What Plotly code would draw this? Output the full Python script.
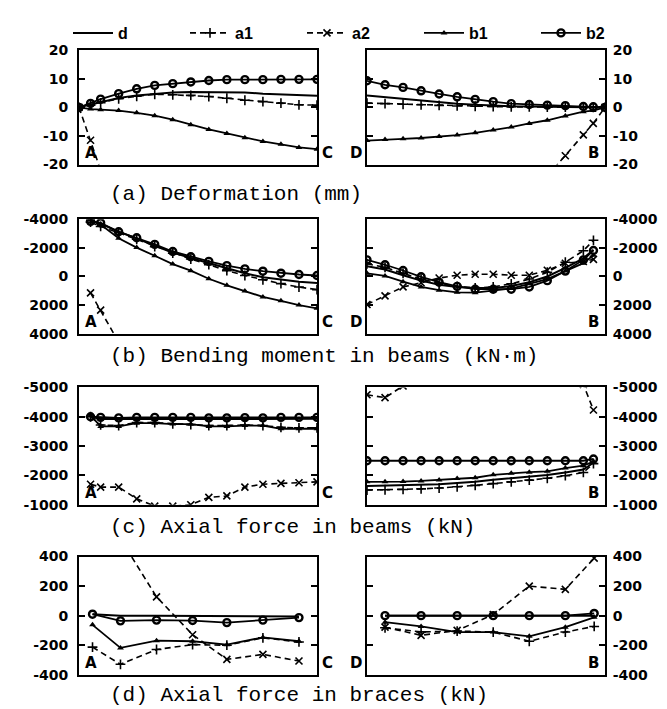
import plotly.graph_objects as go

# ---------------- positions along the beams ----------------
pos_a_left = [0, 0.64, 1.2, 2.2, 3.2, 4.2, 5.2, 6.2, 7.2, 8.2, 9.2, 10.2, 11.2, 12.2, 13.2]
pos_a_right = [0, 1, 2, 3, 4, 5, 6, 7, 8, 9, 10, 11, 12, 12.55, 13.2]
pos_bc_left = [0.64, 1.2, 2.2, 3.2, 4.2, 5.2, 6.2, 7.2, 8.2, 9.2, 10.2, 11.2, 12.2, 13.2]
pos_bc_right = [0, 1, 2, 3, 4, 5, 6, 7, 8, 9, 10, 11, 12, 12.56]
pos_d_left = [0.75, 2.3, 4.3, 6.3, 8.2, 10.2, 12.2]
pos_d_right = [1, 3, 5, 7, 9, 11, 12.6]

series_names = ["d", "a1", "a2", "b1", "b2"]

# ---------------- (a) Deformation (mm) ----------------
defl_left_d = [0, 1.0, 2.0, 3.3, 4.2, 4.8, 5.2, 5.4, 5.4, 5.4, 5.2, 4.8, 4.5, 4.3, 4.1]
defl_left_a1 = [0, 0.8, 1.6, 3.0, 3.9, 4.6, 4.4, 4.2, 3.8, 3.2, 2.5, 2.0, 1.5, 0.9, 0.8]
defl_left_a2_pos = [0, 0.64, 1.2]
defl_left_a2 = [0, -11.5, -22]
defl_left_b1 = [0, -0.6, -0.8, -1.1, -1.9, -2.9, -4.3, -6.1, -7.7, -9.1, -10.6, -11.9, -12.9, -14.0, -14.6]
defl_left_b2 = [0, 1.4, 2.9, 4.8, 6.5, 7.7, 8.3, 8.9, 9.4, 9.7, 9.7, 9.7, 9.8, 9.8, 9.8]

defl_right_d = [4.2, 3.6, 3.0, 2.4, 1.8, 1.3, 0.9, 0.6, 0.4, 0.3, 0.2, 0.1, 0.1, 0.05, 0]
defl_right_a1 = [1.5, 1.3, 1.1, 0.9, 0.7, 0.5, 0.4, 0.3, 0.2, 0.2, 0.1, 0.1, 0.1, 0.05, 0]
defl_right_a2_pos = [10, 11, 12, 12.55, 13.2]
defl_right_a2 = [-24, -16.9, -9.6, -5.6, 0]
defl_right_b1 = [-11.6, -11.2, -11.0, -10.7, -10.2, -9.7, -8.9, -7.9, -6.9, -5.6, -4.5, -3.0, -1.5, -1.1, 0]
defl_right_b2 = [9.3, 7.9, 7.0, 5.8, 4.7, 3.7, 2.8, 2.0, 1.3, 1.0, 0.8, 0.6, 0.3, 0.2, 0]

# ---------------- (b) Bending moment in beams (kN.m) ----------------
mom_left_d = [-3900, -3700, -3130, -2670, -2140, -1680, -1290, -920, -570, -230, 50, 230, 370, 460]
mom_left_a1 = [-3800, -3500, -3060, -2600, -2090, -1630, -1220, -830, -410, -70, 230, 500, 740, 920]
mom_left_a2_pos = [0.64, 1.2, 2.2]
mom_left_a2 = [1150, 2350, 4600]
mom_left_b1 = [-3980, -3630, -2670, -2020, -1450, -870, -410, 160, 620, 1010, 1430, 1700, 2000, 2230]
mom_left_b2 = [-3860, -3750, -3130, -2710, -2250, -1750, -1380, -1060, -760, -530, -370, -230, -140, -70]

mom_right_d = [-710, -490, -90, 290, 580, 730, 800, 800, 670, 400, 0, -600, -1270, -1870]
mom_right_a1 = [-890, -640, -220, 180, 470, 690, 800, 730, 510, 180, -300, -1000, -1800, -2530]
mom_right_a2 = [1960, 1360, 730, 440, 110, -90, -160, -160, -90, -90, -440, -930, -1050, -1200]
mom_right_b1 = [-220, -40, 360, 730, 960, 1110, 1130, 1000, 840, 510, 180, -380, -930, -1490]
mom_right_b2 = [-1160, -820, -420, 20, 400, 690, 890, 890, 890, 730, 290, -380, -1160, -1820]

# ---------------- (c) Axial force in beams (kN) ----------------
axb_left_d = [-4000, -3920, -3920, -3930, -3930, -3920, -3920, -3910, -3910, -3920, -3910, -3920, -3920, -3930]
axb_left_a1 = [-4000, -3720, -3700, -3800, -3800, -3760, -3730, -3700, -3700, -3720, -3700, -3640, -3620, -3620]
axb_left_a2 = [-1700, -1600, -1600, -1200, -950, -950, -1000, -1250, -1300, -1600, -1700, -1730, -1750, -1780]
axb_left_b1 = [-4050, -3670, -3670, -3780, -3780, -3750, -3750, -3670, -3670, -3700, -3700, -3590, -3590, -3590]
axb_left_b2 = [-4000, -3980, -3960, -3980, -3980, -3980, -3980, -3960, -3960, -3970, -3960, -3980, -3980, -3980]

axb_right_d = [-1640, -1650, -1660, -1680, -1700, -1740, -1780, -1850, -1900, -1960, -2010, -2100, -2200, -2430]
axb_right_a1 = [-1500, -1510, -1520, -1540, -1570, -1610, -1660, -1720, -1780, -1840, -1900, -1990, -2100, -2400]
axb_right_a2 = [-4750, -4650, -5050, -5300, -5400, -5450, -5450, -5450, -5450, -5400, -5350, -5250, -5100, -4230]
axb_right_b1 = [-1780, -1780, -1790, -1810, -1840, -1890, -1920, -2020, -2070, -2110, -2140, -2250, -2330, -2470]
axb_right_b2 = [-2500, -2500, -2500, -2500, -2500, -2500, -2500, -2500, -2500, -2500, -2500, -2500, -2500, -2560]

# ---------------- (d) Axial force in braces (kN) ----------------
axd_left_d = [10, 0, 0, 0, 0, 0, -5]
axd_left_a1 = [-213, -329, -229, -196, -200, -150, -178]
axd_left_a2 = [700, 520, 127, -129, -296, -262, -307]
axd_left_b1 = [-62, -218, -169, -173, -196, -147, -173]
axd_left_b2 = [10, -35, -30, -33, -47, -30, -13]

axd_right_d = [0, 0, 0, 0, 0, 0, 0]
axd_right_a1 = [-82, -110, -104, -111, -173, -111, -73]
axd_right_a2 = [-78, -133, -100, 7, 200, 178, 389]
axd_right_b1 = [-44, -73, -111, -111, -140, -78, -11]
axd_right_b2 = [0, 0, 0, 0, 0, 0, 15]

# ---------------- tick labels ----------------
ticks_a = [20, 10, 0, -10, -20]
ticktext_a = ["20", "10", "0", "-10", "-20"]
ticks_b = [-4000, -2000, 0, 2000, 4000]
ticktext_b = ["-4000", "-2000", "0", "2000", "4000"]
ticks_c = [-5000, -4000, -3000, -2000, -1000]
ticktext_c = ["-5000", "-4000", "-3000", "-2000", "-1000"]
ticks_d = [400, 200, 0, -200, -400]
ticktext_d = ["400", "200", "0", "-200", "-400"]

titles = ["(a) Deformation (mm)", "(b) Bending moment in beams (kN\u00b7m)",
          "(c) Axial force in beams (kN)", "(d) Axial force in braces (kN)"]

# ---------------- styles ----------------
W, H = 667, 709
BLACK = "black"
styles = {
    "d": dict(mode="lines", line=dict(color=BLACK, width=2)),
    "a1": dict(mode="lines+markers", line=dict(color=BLACK, width=1.6, dash="6px,4px"),
               marker=dict(symbol="cross-thin", size=7, line=dict(color=BLACK, width=1.6))),
    "a2": dict(mode="lines+markers", line=dict(color=BLACK, width=1.6, dash="6px,4px"),
               marker=dict(symbol="x-thin", size=7, line=dict(color=BLACK, width=1.6))),
    "b1": dict(mode="lines+markers", line=dict(color=BLACK, width=1.8),
               marker=dict(symbol="triangle-up", size=6, color=BLACK)),
    "b2": dict(mode="lines+markers", line=dict(color=BLACK, width=1.8),
               marker=dict(symbol="circle-open", size=7, color=BLACK, line=dict(color=BLACK, width=2.4))),
}

fig = go.Figure()

panels = [
    (1, "left", {"d": (pos_a_left, defl_left_d), "a1": (pos_a_left, defl_left_a1),
                 "a2": (defl_left_a2_pos, defl_left_a2), "b1": (pos_a_left, defl_left_b1),
                 "b2": (pos_a_left, defl_left_b2)}),
    (2, "right", {"d": (pos_a_right, defl_right_d), "a1": (pos_a_right, defl_right_a1),
                  "a2": (defl_right_a2_pos, defl_right_a2), "b1": (pos_a_right, defl_right_b1),
                  "b2": (pos_a_right, defl_right_b2)}),
    (3, "left", {"d": (pos_bc_left, mom_left_d), "a1": (pos_bc_left, mom_left_a1),
                 "a2": (mom_left_a2_pos, mom_left_a2), "b1": (pos_bc_left, mom_left_b1),
                 "b2": (pos_bc_left, mom_left_b2)}),
    (4, "right", {"d": (pos_bc_right, mom_right_d), "a1": (pos_bc_right, mom_right_a1),
                  "a2": (pos_bc_right, mom_right_a2), "b1": (pos_bc_right, mom_right_b1),
                  "b2": (pos_bc_right, mom_right_b2)}),
    (5, "left", {"d": (pos_bc_left, axb_left_d), "a1": (pos_bc_left, axb_left_a1),
                 "a2": (pos_bc_left, axb_left_a2), "b1": (pos_bc_left, axb_left_b1),
                 "b2": (pos_bc_left, axb_left_b2)}),
    (6, "right", {"d": (pos_bc_right, axb_right_d), "a1": (pos_bc_right, axb_right_a1),
                  "a2": (pos_bc_right, axb_right_a2), "b1": (pos_bc_right, axb_right_b1),
                  "b2": (pos_bc_right, axb_right_b2)}),
    (7, "left", {"d": (pos_d_left, axd_left_d), "a1": (pos_d_left, axd_left_a1),
                 "a2": (pos_d_left, axd_left_a2), "b1": (pos_d_left, axd_left_b1),
                 "b2": (pos_d_left, axd_left_b2)}),
    (8, "right", {"d": (pos_d_right, axd_right_d), "a1": (pos_d_right, axd_right_a1),
                  "a2": (pos_d_right, axd_right_a2), "b1": (pos_d_right, axd_right_b1),
                  "b2": (pos_d_right, axd_right_b2)}),
]

for idx, side, data in panels:
    xa = "x" if idx == 1 else f"x{idx}"
    ya = "y" if idx == 1 else f"y{idx}"
    for name in series_names:
        xs, ys = data[name]
        fig.add_trace(go.Scatter(x=xs, y=ys, name=name, xaxis=xa, yaxis=ya,
                                 showlegend=(idx == 1), cliponaxis=True, **styles[name]))

# ---------------- axes layout (pixel based) ----------------
def px_x(p):
    return p / W

def px_y(p):
    return 1 - p / H

x_left = [px_x(71), px_x(309)]
x_right = [px_x(359), px_x(597)]
rows = [
    (35, 152, [-20, 20], ticks_a, ticktext_a),
    (208, 325, [4000, -4000], ticks_b, ticktext_b),
    (380, 500, [-1000, -5000], ticks_c, ticktext_c),
    (553, 674, [-400, 400], ticks_d, ticktext_d),
]

tickfont = dict(family="DejaVu Sans", size=14, color=BLACK, weight="bold")
layout = {}
for r, (top, bot, rng, tv, tt) in enumerate(rows):
    for c, xdom in enumerate([x_left, x_right]):
        idx = r * 2 + c + 1
        xk = "xaxis" if idx == 1 else f"xaxis{idx}"
        yk = "yaxis" if idx == 1 else f"yaxis{idx}"
        ya = "y" if idx == 1 else f"y{idx}"
        xa = "x" if idx == 1 else f"x{idx}"
        layout[xk] = dict(domain=xdom, range=[0, 13.2], anchor=ya, showline=True, mirror=True,
                          linewidth=2, linecolor=BLACK, showticklabels=False, ticks="",
                          showgrid=False, zeroline=False, fixedrange=True)
        layout[yk] = dict(domain=[px_y(bot), px_y(top)], range=rng, anchor=xa,
                          side="left" if c == 0 else "right",
                          tickvals=tv, ticktext=tt, ticks="inside", ticklen=6, tickwidth=1.5,
                          tickcolor=BLACK, showline=True, mirror="ticks", linewidth=2,
                          linecolor=BLACK, showgrid=False, zeroline=False, tickfont=tickfont,
                          ticklabelstandoff=(6 if c == 0 else 3), fixedrange=True)

fig.update_layout(**layout)

annotations = []
title_y = [183, 348, 523, 695]
for t, yy in zip(titles, title_y):
    annotations.append(dict(text=t, xref="paper", yref="paper", x=px_x(100), y=px_y(yy),
                            xanchor="left", yanchor="middle", showarrow=False,
                            font=dict(family="Liberation Mono", size=21, color=BLACK)))

letter_font = dict(family="DejaVu Sans", size=15, color=BLACK, weight="bold")
corner = [
    (1, "A", 0, "left", 4), (1, "C", 1, "left", 3),
    (2, "D", 0, "right", -3), (2, "B", 1, "right", -4),
    (3, "A", 0, "left", 4), (3, "C", 1, "left", 3),
    (4, "D", 0, "right", -3), (4, "B", 1, "right", -4),
    (5, "A", 0, "left", 4), (5, "C", 1, "left", 3),
    (6, "B", 1, "right", -4),
    (7, "A", 0, "left", 4), (7, "C", 1, "left", 3),
    (8, "D", 0, "right", -3), (8, "B", 1, "right", -4),
]
for idx, txt, xv, xanc, xs in corner:
    xr = "x domain" if idx == 1 else f"x{idx} domain"
    yr = "y domain" if idx == 1 else f"y{idx} domain"
    annotations.append(dict(text=txt, xref=xr, yref=yr, x=xv, y=0, xanchor=xanc,
                            yanchor="bottom", xshift=xs, yshift=1, showarrow=False,
                            font=letter_font))

fig.update_layout(
    width=W, height=H, autosize=False,
    margin=dict(l=0, r=0, t=0, b=0),
    paper_bgcolor="white", plot_bgcolor="white",
    annotations=annotations,
    showlegend=True,
    legend=dict(orientation="h", x=px_x(60), y=1.0, xanchor="left", yanchor="top",
                entrywidth=62, entrywidthmode="pixels", bgcolor="rgba(0,0,0,0)",
                font=dict(family="Liberation Sans", size=16, color=BLACK, weight="bold"),
                itemwidth=40, tracegroupgap=0),
)

fig.write_html("out.html")
